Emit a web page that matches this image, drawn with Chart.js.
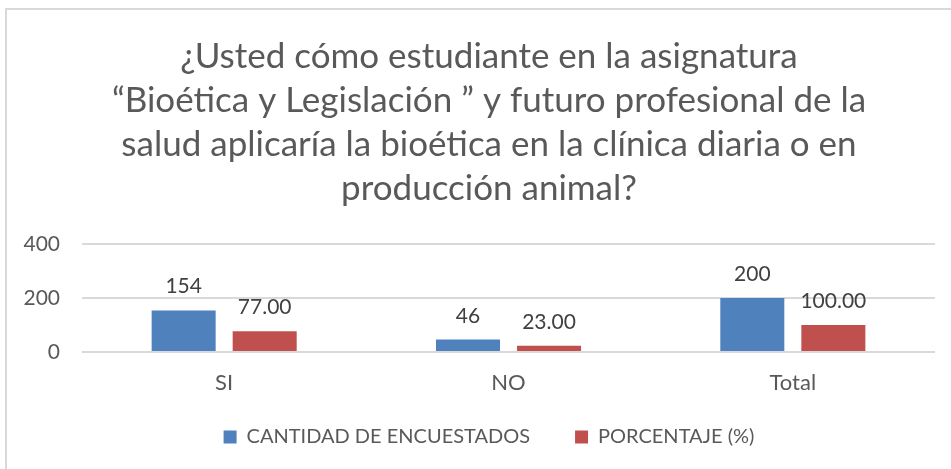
<!DOCTYPE html>
<html>
<head>
<meta charset="utf-8">
<script src="https://cdn.jsdelivr.net/npm/chart.js@4"></script>
<style>
  html, body { margin: 0; padding: 0; background: #fff; overflow: hidden; }
  #frame {
    position: absolute; left: 5px; top: 8px;
    width: 958px; height: 470px;
    border-left: 2px solid #d9d9d9; border-top: 2px solid #d9d9d9;
  }
  #frame canvas { position: absolute; left: 0; top: 0; }
</style>
</head>
<body>
<div id="frame"><canvas id="chart_canvas" width="958" height="470"></canvas></div>
<script>
// data
var categories = ["SI", "NO", "Total"];
var cantidad = [154, 46, 200];
var porcentaje = [77.00, 23.00, 100.00];
var yTicks = [0, 200, 400];

var titleLines = [
  "¿Usted cómo estudiante en la asignatura",
  "“Bioética y Legislación ” y futuro profesional de la",
  "salud aplicaría la bioética en la clínica diaria o en",
  "producción animal?"
];

var textColor = "#595959";
var fontFamily = "Lato, 'Open Sans', sans-serif";

// draw the value above each bar
var barLabels = {
  id: "barLabels",
  afterDatasetsDraw: function (chart) {
    var ctx = chart.ctx;
    ctx.save();
    ctx.font = "21px " + fontFamily;
    ctx.fillStyle = "#404040";
    ctx.textAlign = "center";
    ctx.textBaseline = "alphabetic";
    chart.data.datasets.forEach(function (ds, i) {
      var meta = chart.getDatasetMeta(i);
      meta.data.forEach(function (bar, j) {
        var txt = i === 1 ? ds.data[j].toFixed(2) : String(ds.data[j]);
        ctx.fillText(txt, bar.x, bar.y - 17);
      });
    });
    ctx.restore();
  }
};

// title and legend are centred on the whole frame, not only right of the axis
var recenter = {
  id: "recenter",
  beforeDraw: function (chart) {
    chart.titleBlock.left = 36;
    chart.legend.left = 36;
    chart.legend.top = 372;
  }
};

var ctx = document.getElementById("chart_canvas").getContext("2d");
var chart = new Chart(ctx, {
  type: "bar",
  data: {
    labels: categories,
    datasets: [
      { label: "CANTIDAD DE ENCUESTADOS", data: cantidad, backgroundColor: "#4f81bd" },
      { label: "PORCENTAJE (%)", data: porcentaje, backgroundColor: "#c0504d" }
    ]
  },
  options: {
    responsive: false,
    animation: false,
    categoryPercentage: 0.57,
    barPercentage: 0.79,
    layout: { padding: { left: 0, right: 30, top: 0, bottom: 9 } },
    plugins: {
      title: {
        display: true,
        text: titleLines,
        color: textColor,
        font: { family: fontFamily, size: 35, weight: "normal", lineHeight: 1.257 },
        padding: { top: 25, bottom: 33 }
      },
      legend: {
        position: "bottom",
        labels: {
          color: textColor,
          font: { family: fontFamily, size: 20 },
          boxWidth: 13,
          boxHeight: 13,
          padding: 45
        }
      },
      tooltip: { enabled: false }
    },
    scales: {
      x: {
        afterFit: function (scale) { scale.height = 44; },
        grid: { display: false, drawTicks: false },
        border: { display: false },
        ticks: { color: textColor, font: { family: fontFamily, size: 22 }, padding: 18 }
      },
      y: {
        min: 0,
        max: 400,
        afterBuildTicks: function (scale) {
          scale.ticks = yTicks.map(function (v) { return { value: v }; });
        },
        afterFit: function (scale) { scale.width = 75; },
        grid: { color: "#d9d9d9", lineWidth: 2, drawTicks: false },
        border: { display: false },
        ticks: { color: textColor, font: { family: fontFamily, size: 21 }, padding: 22 }
      }
    }
  },
  plugins: [barLabels, recenter]
});
</script>
</body>
</html>
